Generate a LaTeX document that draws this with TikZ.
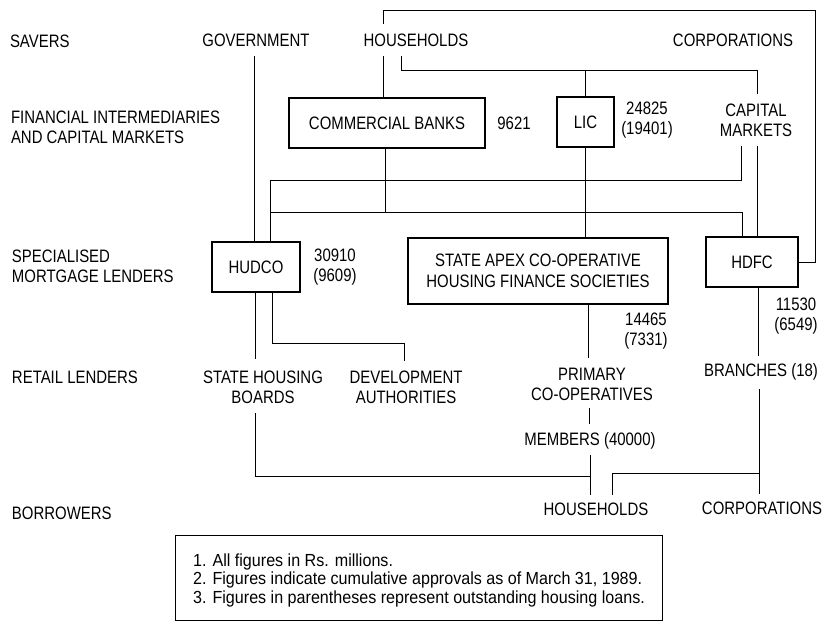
\documentclass[tikz,border=0pt]{standalone}
\usepackage{fontspec}
\setmainfont{Liberation Sans}[FakeStretch=0.83]
\newfontfamily\notefamily{Liberation Sans}[FakeStretch=0.92]
\usetikzlibrary{calc}
\newcommand\mainsz{\fontsize{18}{20}\selectfont}
\newcommand\apexsz{\fontsize{18}{21.5}\selectfont}
\newcommand\notesz{\notefamily\fontsize{17.5}{18.5}\selectfont}
\begin{document}
\begin{tikzpicture}[x=1pt,y=-1pt,
  lab/.style={inner sep=0pt, outer sep=0pt, font=\mainsz},
  mlab/.style={lab, align=center},
  llab/.style={lab, align=left, anchor=west},
  boxnode/.style={draw, line width=1.1pt, inner sep=0pt, outer sep=0pt, font=\mainsz, align=center},
  conn/.style={line width=1pt}
]
\useasboundingbox (0,0) rectangle (822,624);

% row labels
\node[llab] (savers) at (10,41) {SAVERS};
\node[llab] (fin) at (11,127) {FINANCIAL INTERMEDIARIES\\AND CAPITAL MARKETS};
\node[llab] (spec) at (12,266) {SPECIALISED\\MORTGAGE LENDERS};
\node[llab] (retail) at (12,377) {RETAIL LENDERS};
\node[llab] (borr) at (12,513) {BORROWERS};

% savers
\node[lab] (gov) at (256,40) {GOVERNMENT};
\node[lab] (hh) at (416,40) {HOUSEHOLDS};
\node[lab] (corp) at (733,40) {CORPORATIONS};

% intermediaries
\node[boxnode, minimum width=196pt, minimum height=50pt] (cb) at (387,123) {COMMERCIAL BANKS};
\node[lab] (v9621) at (514,123) {9621};
\node[boxnode, minimum width=57pt, minimum height=50pt] (lic) at (585.5,122) {LIC};
\node[mlab] (vlic) at (647,120) {24825\\(19401)};
\node[mlab] (cm) at (756,120) {CAPITAL\\MARKETS};

% specialised lenders
\node[boxnode, minimum width=88pt, minimum height=50pt] (hudco) at (256,267) {HUDCO};
\node[mlab] (vhudco) at (335,267) {30910\\(9609)};
\node[boxnode, minimum width=260pt, minimum height=66pt, font=\apexsz] (apex) at (538,271) {STATE APEX CO-OPERATIVE\\HOUSING FINANCE SOCIETIES};
\node[boxnode, minimum width=92pt, minimum height=50pt] (hdfc) at (752,262) {HDFC};
\node[mlab] (vhdfc) at (796,316) {11530\\(6549)};
\node[mlab] (vapex) at (646,331) {14465\\(7331)};

% retail lenders
\node[mlab] (shb) at (263,387) {STATE HOUSING\\BOARDS};
\node[mlab] (dev) at (406,387) {DEVELOPMENT\\AUTHORITIES};
\node[mlab] (prim) at (592,384) {PRIMARY\\CO-OPERATIVES};
\node[lab] (branch) at (761,372) {BRANCHES (18)};
\node[lab] (mem) at (590,441) {MEMBERS (40000)};

% borrowers
\node[lab] (hh2) at (596,509) {HOUSEHOLDS};
\node[lab] (corp2) at (762,508) {CORPORATIONS};

% notes
\node[draw, line width=1.1pt, anchor=north west, minimum width=487pt, minimum height=85pt, inner sep=0pt] (notebox) at (175,535) {};
\node[anchor=west, align=left, font=\notesz, inner sep=0pt] (notetxt) at (193,580) {1. All figures in Rs. millions.\\2. Figures indicate cumulative approvals as of March 31, 1989.\\3. Figures in parentheses represent outstanding housing loans.};

% helper coordinates
\coordinate (topR) at (815,10);
\coordinate (hhj) at ($(hh.south)+(-15,24)$);
\coordinate (j2) at ($(cb.south)+(-2,64)$);
\coordinate (hudIn) at ($(hudco.north)+(14,0)$);
\coordinate (hdfcIn) at ($(hdfc.north)+(-10,0)$);
\coordinate (cmL) at ($(cm.south)+(-15,10)$);
\coordinate (j1) at ($(cm.south)+(-15,44)$);
\coordinate (hd) at ($(hudco.south)+(16,51)$);
\coordinate (shbTop) at ($(shb.north)+(0,-12)$);
\coordinate (memTop) at ($(mem.north)+(0,-9)$);
\coordinate (bl) at ($(shb.south)+(-8,73)$);
\coordinate (hhA) at ($(hh2.north)+(-6,-7.5)$);
\coordinate (hhB) at ($(hh2.north)+(16,-7.5)$);
\coordinate (br) at ($(corp2.north)+(-3,-28)$);

% government -> HUDCO
\draw[conn] ([xshift=-2pt,yshift=-10pt]gov.south) -- ([xshift=-2pt]gov.south |- hudco.north);
% households -> commercial banks
\draw[conn] ([xshift=-33pt,yshift=-10pt]hh.south) -- ([xshift=-33pt]hh.south |- cb.north);
% households -> HDFC (top route)
\draw[conn] ([xshift=-33pt,yshift=10pt]hh.north) |- (topR) |- (hdfc.east);
% households -> LIC and capital markets
\draw[conn] ([xshift=-15pt,yshift=-10pt]hh.south) -- (hhj) -| ([xshift=1pt,yshift=10pt]cm.north);
\draw[conn] (hhj -| lic.north) -- (lic.north);
% commercial banks -> HUDCO, HDFC
\draw[conn] ([xshift=-2pt]cb.south) -- (j2);
\draw[conn] (hudIn |- j2) -- (j2 -| hdfcIn) -- (hdfcIn);
% capital markets -> HUDCO
\draw[conn] (cmL) -- (cmL |- j1) -| (hudIn);
% capital markets -> HDFC
\draw[conn] ([xshift=1pt,yshift=-10pt]cm.south) -- ([xshift=1pt]cm.south |- hdfc.north);
% LIC -> state apex
\draw[conn] (lic.south) -- (lic.south |- apex.north);
% HUDCO -> state housing boards
\draw[conn] ([xshift=-1pt]hudco.south) -- ([xshift=-1pt]hudco.south |- shbTop);
% HUDCO -> development authorities
\draw[conn] ([xshift=16pt]hudco.south) -- (hd) -| ([xshift=-2pt,yshift=10pt]dev.north);
% state apex -> primary co-operatives
\draw[conn] ([xshift=50pt]apex.south) -- ([xshift=-4pt,yshift=10pt]prim.north);
% HDFC -> branches
\draw[conn] ([xshift=6pt]hdfc.south) -- ([xshift=-3pt,yshift=8pt]branch.north);
% primary -> members
\draw[conn] ([xshift=-3pt,yshift=-8pt]prim.south) -- ([xshift=-3pt]prim.south |- memTop);
% members -> households
\draw[conn] ([xshift=0pt,yshift=-6pt]mem.south) -- (hhA);
% state housing boards -> households
\draw[conn] ([xshift=-8pt,yshift=-10pt]shb.south) -- (bl) -- (bl -| hhA);
% branches -> corporations
\draw[conn] ([xshift=-2pt,yshift=-9pt]branch.south) -- ([xshift=-3pt,yshift=8pt]corp2.north);
% branches -> households
\draw[conn] (br) -| (hhB);
\end{tikzpicture}
\end{document}
